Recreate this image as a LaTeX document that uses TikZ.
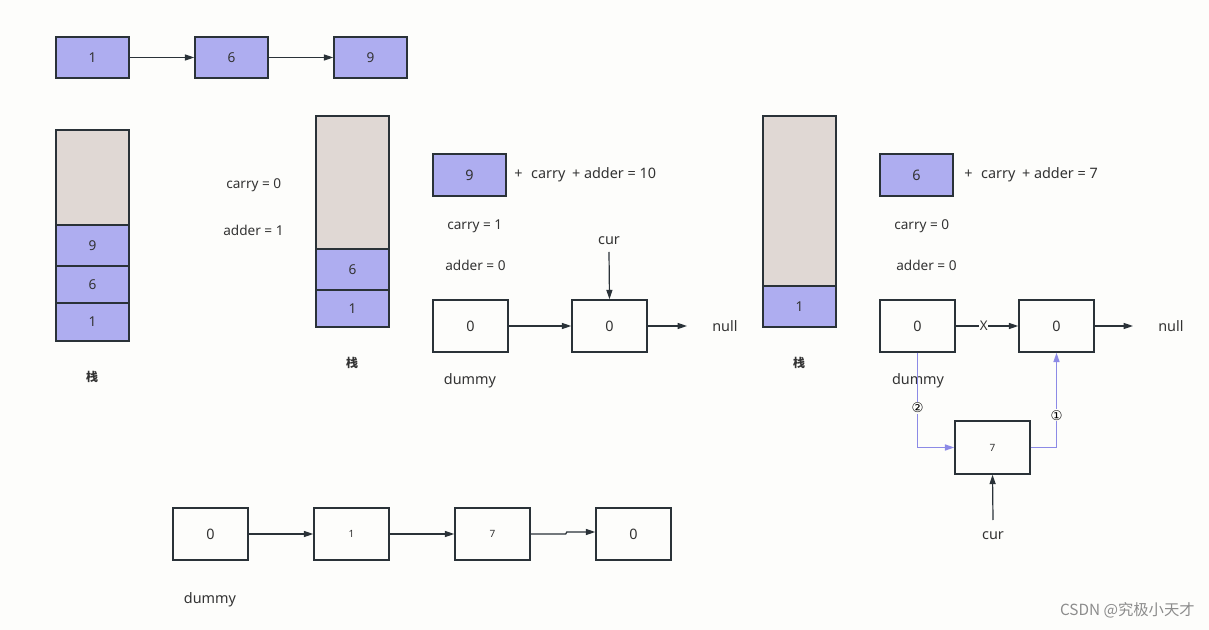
\documentclass[tikz,border=0pt]{standalone}
\usepackage{fontspec}
\setmainfont{Noto Sans}
\newfontfamily\cjk{Noto Sans CJK SC}
\newfontfamily\symfont{DejaVu Sans}
\usetikzlibrary{fit,arrows.meta}
\definecolor{bl}{HTML}{AEADF0}
\definecolor{gy}{HTML}{E0D8D4}
\definecolor{ln}{HTML}{2A3238}
\definecolor{pl}{HTML}{8C8AE6}
\definecolor{bg}{HTML}{FDFDFB}
\definecolor{tx}{HTML}{333333}
\tikzset{
  box/.style={draw=ln, line width=1.1pt, inner sep=0pt, text=tx},
  bluebox/.style={box, fill=bl},
  emptybox/.style={box, fill=gy},
  whitebox/.style={box, fill=bg},
  lbl/.style={inner sep=0pt, text=tx, font=\fontsize{10.2}{12}\selectfont},
  smalltxt/.style={font=\fontsize{7.5}{9}\selectfont},
  bigtxt/.style={font=\fontsize{10.8}{13}\selectfont},
  stk/.style={inner sep=0pt, text=tx, font=\cjk\fontsize{9}{11}\selectfont\bfseries},
  arr/.style={draw=ln, line width=0.9pt, -{Triangle[length=7pt,width=4.5pt]}},
  parr/.style={draw=pl, line width=1.1pt, -{Triangle[length=7pt,width=4.5pt]}},
  circ/.style={fill=bg, inner sep=0.8pt, font=\symfont\fontsize{10}{12}\selectfont, text=black},
}
\begin{document}
\begin{tikzpicture}[x=0.75pt, y=-0.75pt]
\fill[bg] (0,0) rectangle (1209,630);
\useasboundingbox (0,0) rectangle (1209,630);

% top list
\node[bluebox, fit={(56,37)(129,78)}] (t1) {};
\node[lbl] at (t1) {1};
\node[bluebox, fit={(195,37)(268,78)}] (t6) {};
\node[lbl] at (t6) {6};
\node[bluebox, fit={(334,37)(407,78)}] (t9) {};
\node[lbl] at (t9) {9};
\draw[arr] (t1) -- (t6);
\draw[arr] (t6) -- (t9);

% left stack
\node[emptybox, fit={(56,130)(129,225)}] (s1e) {};
\node[bluebox, fit={(56,225)(129,266)}] (s19) {};
\node[lbl] at (s19) {9};
\node[bluebox, fit={(56,266)(129,303)}] (s16) {};
\node[lbl] at (s16) {6};
\node[bluebox, fit={(56,303)(129,341)}] (s11) {};
\node[lbl] at (s11) {1};
\node[stk] (st1) at (92,377) {栈};

\node[lbl, anchor=west] (c0) at (226,185) {carry = 0};
\node[lbl, anchor=west] (a1) at (223,230) {adder = 1};

% middle stack
\node[emptybox, fit={(316,116)(389,249)}] (s2e) {};
\node[bluebox, fit={(316,249)(389,290)}] (s26) {};
\node[lbl] at (s26) {6};
\node[bluebox, fit={(316,290)(389,327)}] (s21) {};
\node[lbl] at (s21) {1};
\node[stk] (st2) at (352,363) {栈};

% middle step
\node[bluebox, fit={(433,154)(506,196)}] (m9) {};
\node[lbl, bigtxt] at (m9) {9};
\node[lbl, bigtxt, anchor=west] (eq1) at (514,175) {+\hspace{6.5pt}carry\hspace{5pt}+ adder = 10};
\node[lbl, anchor=west] (c1t) at (447,226) {carry = 1};
\node[lbl, anchor=west] (a0t) at (445,265) {adder = 0};
\node[lbl, bigtxt] (cur1) at (609,241) {cur};
\coordinate (cur1s) at (609,252);
\node[whitebox, fit={(433,300)(508,352)}] (d1) {};
\node[lbl, bigtxt] at (d1) {0};
\node[whitebox, fit={(572,300)(647,352)}] (n1) {};
\node[lbl, bigtxt] at (n1) {0};
\coordinate (null1e) at (687,326);
\node[lbl, bigtxt, anchor=west] (null1) at (712,326) {null};
\node[lbl, bigtxt] (dm1) at (470,381) {dummy};
\draw[arr] (d1) -- (n1);
\draw[arr] (n1.east) -- (null1e);
\draw[arr] (cur1s) -- (n1.north);

% right stack
\node[emptybox, fit={(763,116)(836,286)}] (s3e) {};
\node[bluebox, fit={(763,286)(836,327)}] (s31) {};
\node[lbl] at (s31) {1};
\node[stk] (st3) at (799,363) {栈};

% right step
\node[bluebox, fit={(880,154)(953,196)}] (m6) {};
\node[lbl, bigtxt] at (m6) {6};
\node[lbl, bigtxt, anchor=west] (eq2) at (964,175) {+\hspace{6.5pt}carry\hspace{5pt}+ adder = 7};
\node[lbl, anchor=west] (c2t) at (894,226) {carry = 0};
\node[lbl, anchor=west] (a2t) at (896,265) {adder = 0};
\node[lbl, bigtxt] (dm2) at (918,381) {dummy};
\node[whitebox, fit={(880,300)(955,352)}] (d2) {};
\node[lbl, bigtxt] at (d2) {0};
\node[whitebox, fit={(1019,300)(1094,352)}] (r2) {};
\node[lbl, bigtxt] at (r2) {0};
\coordinate (null2e) at (1133,326);
\node[lbl, bigtxt, anchor=west] (null2) at (1158,326) {null};
\draw[arr] (d2) -- node[pos=0.45, fill=bg, inner sep=0.5pt, text=tx, font=\fontsize{10}{12}\selectfont] {X} (r2);
\draw[arr] (r2.east) -- (null2e);
\node[whitebox, fit={(955,421)(1030,474)}] (b7) {};
\node[lbl, smalltxt] at (b7) {7};
\draw[parr] (d2.south) |- node[pos=0.29, circ] {②} (b7.west);
\draw[parr] (b7.east) -| node[pos=0.67, circ] {①} (r2.south);
\coordinate (cur2s) at (993,520);
\draw[arr] (cur2s) -- (b7.south);
\node[lbl, bigtxt] (cur2) at (993,536) {cur};

% bottom list
\node[whitebox, fit={(173,508)(248,560)}] (q1) {};
\node[lbl, bigtxt] at (q1) {0};
\node[whitebox, fit={(314,508)(389,560)}] (q2) {};
\node[lbl, smalltxt] at (q2) {1};
\node[whitebox, fit={(455,508)(530,560)}] (q3) {};
\node[lbl, smalltxt] at (q3) {7};
\node[whitebox, fit={(596,508)(671,560)}] (q4) {};
\node[lbl, bigtxt] at (q4) {0};
\coordinate (jog) at (0,532);
\draw[arr] (q1) -- (q2);
\draw[arr] (q2) -- (q3);
\draw[arr] (q3.east) -- ++(35,0) -- ++(1,-2) -- (q4.west |- jog);
\node[lbl, bigtxt] (dm3) at (210,600) {dummy};

% watermark
\node[inner sep=0pt, anchor=east, text=black!45, font=\cjk\fontsize{11.5}{13}\selectfont] (wm) at (1195,610) {CSDN @究极小天才};
\end{tikzpicture}
\end{document}
